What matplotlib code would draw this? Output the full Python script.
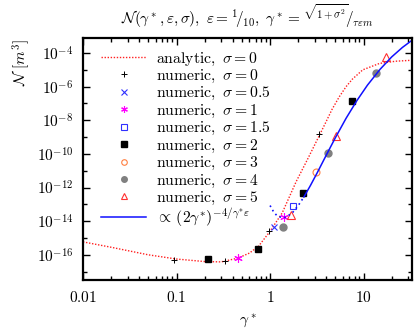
import numpy as np
import matplotlib
matplotlib.use("Agg")
import matplotlib.pyplot as plt
from matplotlib.ticker import FixedLocator, FixedFormatter, LogLocator, NullFormatter

plt.rcParams["mathtext.fontset"] = "cm"
plt.rcParams["font.family"] = "DejaVu Serif"

# ======= data (gamma*, log10 N) =======
analytic_g   = [0.01, 0.02, 0.05, 0.1, 0.2, 0.3, 0.45, 0.6, 0.75, 1.0, 1.35, 1.9,
                2.5, 3.1, 3.4, 4.0, 4.6, 5.5, 6.5, 7.6, 9.8, 14.8, 22.0, 33.0]
analytic_lg  = [-15.23, -15.55, -16.0, -16.25, -16.4, -16.42, -16.2, -15.9, -15.5, -14.6, -13.5, -11.65,
                -10.35, -9.3, -8.85, -8.05, -7.35, -6.6, -6.0, -5.55, -5.0, -4.62, -4.49, -4.43]

# blue power law: dotted below ~2.3, solid above
fit_g_dot    = [1.0, 1.1, 1.2, 1.36, 1.5, 1.75, 2.0, 2.3]
fit_lg_dot   = [-13.07, -13.48, -13.70, -13.80, -13.75, -13.47, -13.07, -12.56]
fit_g        = [2.3, 2.7, 3.2, 4.0, 5.0, 6.5, 8.5, 11.0, 15.0, 20.0, 26.0, 33.0]
fit_lg       = [-12.56, -11.88, -11.11, -10.06, -9.03, -7.88, -6.82, -5.91, -4.97, -4.23, -3.67, -3.24]

s0_g,  s0_lg  = [0.095, 0.328, 0.975, 3.37], [-16.3, -16.36, -14.58, -8.83]
s05_g, s05_lg = [1.09], [-14.32]
s1_g,  s1_lg  = [0.456, 1.40], [-16.16, -13.73]
s15_g, s15_lg = [1.77], [-13.09]
s2_g,  s2_lg  = [0.217, 0.737, 2.23, 7.5], [-16.26, -15.66, -12.34, -6.83]
s3_g,  s3_lg  = [3.10], [-11.05]
s4_g,  s4_lg  = [1.37, 4.14, 13.7], [-14.32, -9.92, -5.17]
s5_g,  s5_lg  = [1.67, 5.1, 17.2], [-13.63, -8.93, -4.26]

xticks      = [0.01, 0.1, 1, 10]
xticklabels = ["$0.01$", "$0.1$", "$1$", "$10$"]
yexp_major  = [-4, -6, -8, -10, -12, -14, -16]


def p(v):
    return 10.0 ** np.array(v)


fig = plt.figure(figsize=(4.15, 3.35), dpi=100)
ax = fig.add_axes([0.2, 0.164, 0.793, 0.723])

ax.plot(analytic_g, p(analytic_lg), ls=(0, (1, 1.2)), color="#ff2020", lw=1.0,
        label=r"$\mathrm{analytic},\ \sigma=0$")
ax.plot(s0_g, p(s0_lg), ls="none", marker="+", color="black", ms=5, mew=0.7,
        label=r"$\mathrm{numeric},\ \sigma=0$")
ax.plot(s05_g, p(s05_lg), ls="none", marker="x", color="#3030ff", ms=5, mew=0.8,
        label=r"$\mathrm{numeric},\ \sigma=0.5$")
ax.plot(s1_g, p(s1_lg), ls="none", marker=(6, 2, 0), color="#ff00ff", ms=6, mew=0.8,
        label=r"$\mathrm{numeric},\ \sigma=1$")
ax.plot(s15_g, p(s15_lg), ls="none", marker="s", mfc="none", mec="#3030ff", ms=5, mew=0.8,
        label=r"$\mathrm{numeric},\ \sigma=1.5$")
ax.plot(s2_g, p(s2_lg), ls="none", marker="s", color="black", ms=5,
        label=r"$\mathrm{numeric},\ \sigma=2$")
ax.plot(s3_g, p(s3_lg), ls="none", marker="o", mfc="none", mec="#ff7f40", ms=5, mew=0.8,
        label=r"$\mathrm{numeric},\ \sigma=3$")
ax.plot(s4_g, p(s4_lg), ls="none", marker="o", color="#808080", ms=5,
        label=r"$\mathrm{numeric},\ \sigma=4$")
ax.plot(s5_g, p(s5_lg), ls="none", marker="^", mfc="none", mec="#ff3030", ms=5.5, mew=0.8,
        label=r"$\mathrm{numeric},\ \sigma=5$")
ax.plot(fit_g_dot, p(fit_lg_dot), ls=(0, (1, 2)), color="#1010ff", lw=1.2)
ax.plot(fit_g, p(fit_lg), ls="-", color="#1010ff", lw=1.1,
        label=r"$\propto\,(2\gamma^{*})^{-4/\gamma^{*}\varepsilon}$")

ax.set_xscale("log")
ax.set_yscale("log")
ax.set_xlim(0.01, 33)
ax.set_ylim(10 ** -17.5, 10 ** -3.1)

ax.xaxis.set_major_locator(FixedLocator(xticks))
ax.xaxis.set_major_formatter(FixedFormatter(xticklabels))
ax.xaxis.set_minor_locator(LogLocator(base=10, subs=np.arange(2, 10)))
ax.xaxis.set_minor_formatter(NullFormatter())

ax.yaxis.set_major_locator(FixedLocator([10.0 ** e for e in yexp_major]))
ax.yaxis.set_major_formatter(FixedFormatter([r"$10^{%d}$" % e for e in yexp_major]))
ax.yaxis.set_minor_locator(FixedLocator([10.0 ** e for e in range(-17, -3)]))
ax.yaxis.set_minor_formatter(NullFormatter())

ax.tick_params(which="both", direction="in", top=True, right=True, labelsize=11, width=1)
ax.tick_params(which="major", length=5, pad=7)
ax.tick_params(which="minor", length=3)
for s in ax.spines.values():
    s.set_linewidth(1.6)

ax.set_xlabel(r"$\gamma^*$", fontsize=11, labelpad=6)
ax.set_ylabel(r"$\mathcal{N}\ [m^3]$", fontsize=11)
ax.yaxis.set_label_coords(-0.155, 0.9)
ax.set_title(r"$\mathcal{N}(\gamma^*,\varepsilon,\sigma),\ \varepsilon={}^{1}\!/_{10},\ "
             r"\gamma^*={}^{\sqrt{1+\sigma^2}}\!/_{\tau\varepsilon m}$", fontsize=11, pad=10)

ax.legend(loc="upper left", bbox_to_anchor=(0.045, 0.965), frameon=False, fontsize=11.3,
          handlelength=2.9, handletextpad=0.6, labelspacing=-0.04, borderaxespad=0.0,
          borderpad=0.2, markerscale=0.8)

fig.savefig("out.png", dpi=100)
